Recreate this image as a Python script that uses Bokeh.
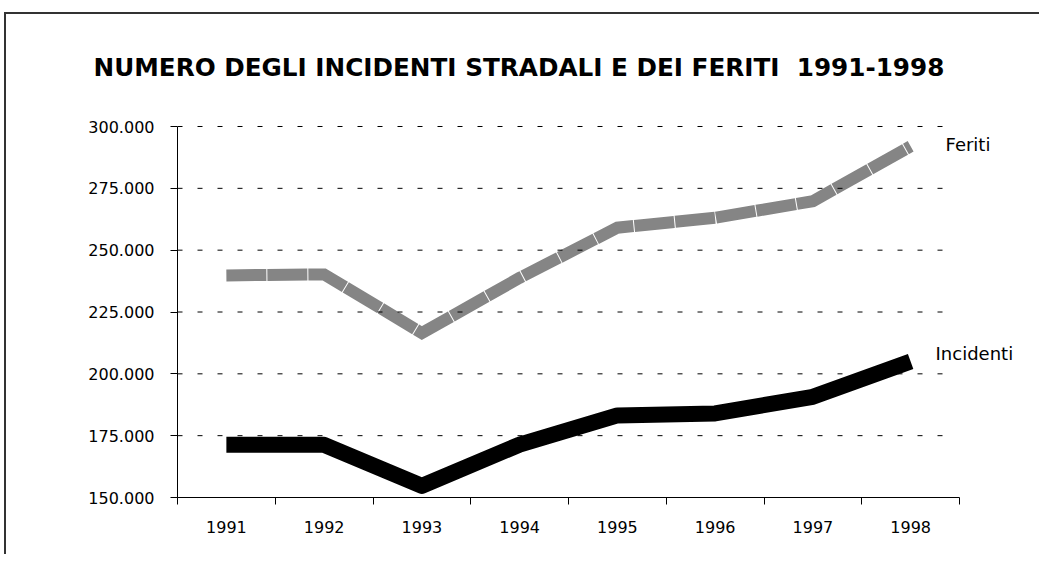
from bokeh.plotting import figure
from bokeh.models import Range1d, FixedTicker, Label, Title
from bokeh.embed import file_html
from bokeh.resources import INLINE

# ---- data ----
years = ["1991", "1992", "1993", "1994", "1995", "1996", "1997", "1998"]
feriti = [239800, 240200, 216500, 238800, 259100, 263100, 269800, 292000]
incidenti = [171300, 171300, 154700, 171400, 183200, 184000, 190700, 205000]
y_ticks = [150000, 175000, 200000, 225000, 250000, 275000, 300000]
y_tick_labels = ["150.000", "175.000", "200.000", "225.000", "250.000", "275.000", "300.000"]
title_text = "NUMERO DEGLI INCIDENTI STRADALI E DEI FERITI \u00a01991-1998"
series_names = ["Feriti", "Incidenti"]

FONT = "DejaVu Sans"

n = len(years)
xc = [i + 0.5 for i in range(n)]   # category centres
bounds = list(range(n + 1))        # category boundaries
y_min, y_max = y_ticks[0], y_ticks[-1]

# frame: x 177..1039 (categories occupy 177..959), y 100..497 (300k at 126)
x_end = n + 80 / 97.75
y_end = y_max + 26 * (y_max - y_min) / 371

p = figure(width=1039, height=554,
           x_range=Range1d(0, x_end), y_range=Range1d(y_min, y_end),
           output_backend="svg", toolbar_location=None,
           min_border_left=177, min_border_right=0,
           min_border_top=100, min_border_bottom=57,
           background_fill_color=None, border_fill_color=None)
p.outline_line_color = None
p.styles = {"box-shadow": "inset 4px 12px 0 0 #ffffff, inset 6px 14px 0 0 #333333"}

# y axis
p.yaxis.ticker = FixedTicker(ticks=y_ticks)
p.yaxis.bounds = (y_min, y_max)
p.yaxis.major_label_overrides = {t: l for t, l in zip(y_ticks, y_tick_labels)}
p.yaxis.major_tick_out = 7
p.yaxis.major_tick_in = 0
p.yaxis.minor_tick_out = 0
p.yaxis.minor_tick_in = 0
p.yaxis.axis_line_color = "black"
p.yaxis.major_tick_line_color = "black"
p.yaxis.major_label_text_font = FONT
p.yaxis.major_label_text_font_size = "16px"
p.yaxis.major_label_text_color = "black"
p.yaxis.major_label_standoff = 16

# x axis (labels at centres, ticks at boundaries)
p.xaxis.ticker = FixedTicker(ticks=xc, minor_ticks=bounds)
p.xaxis.bounds = (0, n)
p.xaxis.major_label_overrides = {x: y for x, y in zip(xc, years)}
p.xaxis.major_tick_out = 0
p.xaxis.major_tick_in = 0
p.xaxis.minor_tick_out = 7
p.xaxis.minor_tick_in = 0
p.xaxis.minor_tick_line_color = "black"
p.xaxis.axis_line_color = "black"
p.xaxis.major_label_text_font = FONT
p.xaxis.major_label_text_font_size = "16px"
p.xaxis.major_label_text_color = "black"
p.xaxis.major_label_standoff = 16

# default grids off; dashed gridlines drawn below so they stop short of labels
p.xgrid.grid_line_color = None
p.ygrid.grid_line_color = None

# series
p.line(xc, feriti, line_width=12, line_color="#858585", line_join="miter",
       line_cap="butt", line_dash="40 1")
p.line(xc, incidenti, line_width=16, line_color="black", line_join="round", line_cap="butt")

p.segment(x0=[0] * (len(y_ticks) - 1), x1=[n - 0.09] * (len(y_ticks) - 1),
          y0=y_ticks[1:], y1=y_ticks[1:],
          line_color="black", line_width=1, line_dash="5 15")

# title
t = Title(text=title_text, text_font=FONT, text_font_style="bold",
          text_font_size="24.7px", text_color="black", align="left",
          offset=-84, standoff=38)
p.add_layout(t, "above")

# series labels
p.add_layout(Label(x=7.857, y=292600, text=series_names[0], text_font=FONT,
                   text_font_size="18px", text_color="black",
                   text_baseline="alphabetic", text_align="left"))
p.add_layout(Label(x=7.755, y=208100, text=series_names[1], text_font=FONT,
                   text_font_size="18px", text_color="black",
                   text_baseline="alphabetic", text_align="left"))

open("out.html", "w").write(file_html(p, INLINE))
